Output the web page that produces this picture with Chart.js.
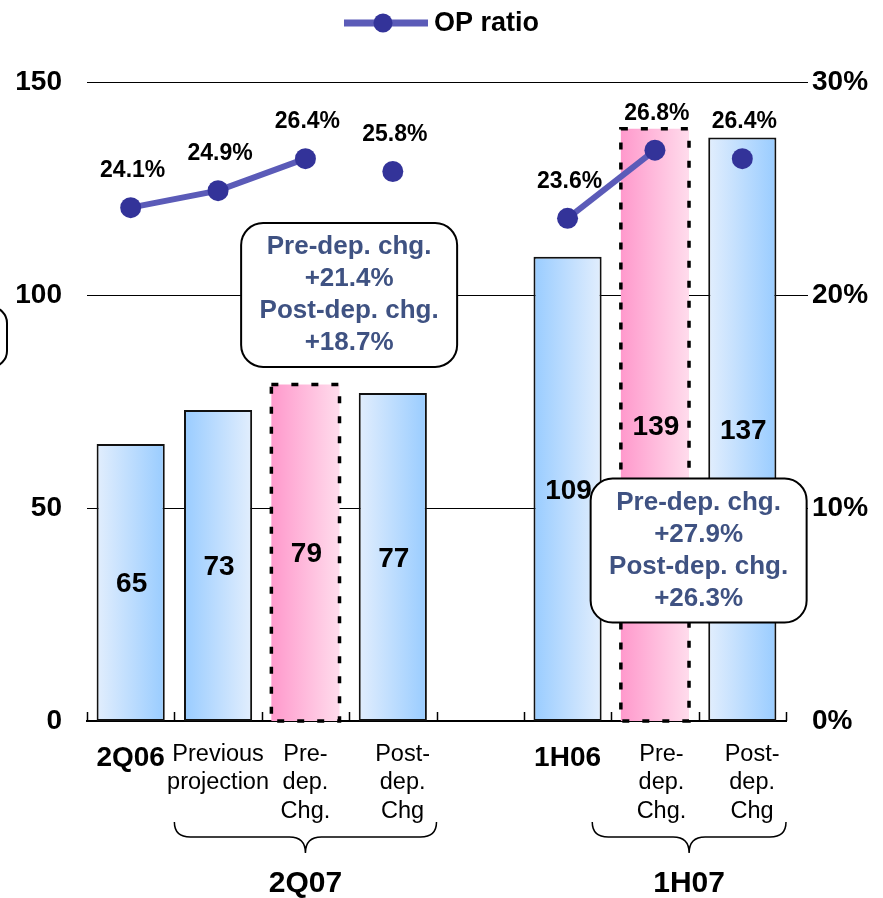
<!DOCTYPE html>
<html>
<head>
<meta charset="utf-8">
<title>OP ratio</title>
<script src="https://cdn.jsdelivr.net/npm/chart.js@4.4.1/dist/chart.umd.min.js"></script>
<style>
  html, body { margin: 0; padding: 0; background: #fff; }
  #wrap { width: 883px; height: 898px; position: relative; }
</style>
</head>
<body>
<div id="wrap"><canvas id="opChart"></canvas></div>
<script>
// Data
const categories = [
  '2Q06',
  ['Previous', 'projection'],
  ['Pre-', 'dep.', 'Chg.'],
  ['   Post-', '   dep.', '   Chg'],
  '',
  '1H06',
  ['  Pre-', '  dep.', '  Chg.'],
  ['   Post-', '   dep.', '   Chg']
];
const opProfit = [65, 73, 79, 77, null, 109, 139, 137];
const opRatio = [24.1, 24.9, 26.4, 25.8, null, 23.6, 26.8, 26.4];
const ratioBreaks = [3, 7]; // points not joined to the one before
const leftTicks = [0, 50, 100, 150];
const rightTicks = [0, 10, 20, 30];
const groupLabels = ['2Q07', '1H07'];
const noteLines = [
  ['Pre-dep. chg.', '+21.4%', 'Post-dep. chg.', '+18.7%'],
  ['Pre-dep. chg.', '+27.9%', 'Post-dep. chg.', '+26.3%']
];

// Styles
const FONT = '"Liberation Sans", Arial, sans-serif';
const BLUE = '#99ccff', BLUE_LIGHT = '#e2eefd';
const PINK = '#ff99cc', PINK_LIGHT = '#ffdcec';
const LINE_COLOR = '#5b5bb8', POINT_COLOR = '#333399', NOTE_COLOR = '#3f5282';
const barLook = ['lr', 'rl', 'pink', 'lr', null, 'rl', 'pink', 'lr'];
const BAR_PCT = 0.78;

function barFill(c) {
  const chart = c.chart;
  const x = chart.scales && chart.scales.x;
  if (!chart.chartArea || !x || c.dataIndex === undefined) return BLUE;
  const i = c.dataIndex;
  const cx = x.getPixelForValue(i);
  const half = x.width / categories.length * BAR_PCT / 2;
  const g = chart.ctx.createLinearGradient(cx - half, 0, cx + half, 0);
  const look = barLook[i];
  if (look === 'pink') { g.addColorStop(0, PINK); g.addColorStop(1, PINK_LIGHT); }
  else if (look === 'rl') { g.addColorStop(0, BLUE); g.addColorStop(1, BLUE_LIGHT); }
  else { g.addColorStop(0, BLUE_LIGHT); g.addColorStop(1, BLUE); }
  return g;
}

function roundBox(ctx, x, y, w, h, r) {
  ctx.beginPath();
  ctx.moveTo(x + r, y);
  ctx.arcTo(x + w, y, x + w, y + h, r);
  ctx.arcTo(x + w, y + h, x, y + h, r);
  ctx.arcTo(x, y + h, x, y, r);
  ctx.arcTo(x, y, x + w, y, r);
  ctx.closePath();
  ctx.fillStyle = '#fff';
  ctx.fill();
  ctx.lineWidth = 2;
  ctx.strokeStyle = '#000';
  ctx.stroke();
}

function drawBrace(ctx, x1, x2, yTop, yMid, yTip) {
  const cx = (x1 + x2) / 2, r = 16;
  ctx.beginPath();
  ctx.moveTo(x1, yTop);
  ctx.quadraticCurveTo(x1, yMid, x1 + r, yMid);
  ctx.lineTo(cx - r, yMid);
  ctx.quadraticCurveTo(cx, yMid, cx, yTip);
  ctx.quadraticCurveTo(cx, yMid, cx + r, yMid);
  ctx.lineTo(x2 - r, yMid);
  ctx.quadraticCurveTo(x2, yMid, x2, yTop);
  ctx.lineWidth = 1.5;
  ctx.strokeStyle = '#000';
  ctx.stroke();
}

const decorations = {
  id: 'decorations',
  beforeDatasetsDraw(chart) {
    const { ctx, chartArea, scales } = chart;
    ctx.save();
    // horizontal grid lines, running a little past the plot on the right
    ctx.strokeStyle = '#000';
    ctx.lineWidth = 1.2;
    leftTicks.filter(v => v > 0).forEach(v => {
      const y = Math.round(scales.y.getPixelForValue(v)) + 0.5;
      ctx.beginPath();
      ctx.moveTo(chartArea.left, y);
      ctx.lineTo(chartArea.right + 22, y);
      ctx.stroke();
    });
    // box cut off at the left edge of the slide
    roundBox(ctx, -160, 307, 167, 60, 16);
    ctx.restore();
  },
  afterDatasetsDraw(chart) {
    const { ctx, chartArea, scales } = chart;
    const x = scales.x;
    const slot = x.width / categories.length;
    const edge = i => x.left + i * slot;
    const bars = chart.getDatasetMeta(1).data;
    const points = chart.getDatasetMeta(0).data;
    ctx.save();

    // dashed outline on the highlighted bars
    ctx.setLineDash([7, 13]);
    ctx.lineWidth = 3.5;
    ctx.strokeStyle = '#000';
    bars.forEach((b, i) => {
      if (barLook[i] !== 'pink') return;
      const half = b.width / 2;
      ctx.strokeRect(b.x - half, b.y, b.width, b.base - b.y);
    });
    ctx.setLineDash([]);

    // small tick marks on the category axis
    ctx.lineWidth = 1.5;
    for (let i = 0; i <= categories.length; i++) {
      const tx = Math.round(edge(i)) + 0.5;
      ctx.beginPath();
      ctx.moveTo(tx, chartArea.bottom);
      ctx.lineTo(tx, chartArea.bottom - 9);
      ctx.stroke();
    }

    // values inside the bars
    ctx.fillStyle = '#000';
    ctx.textAlign = 'center';
    ctx.textBaseline = 'middle';
    ctx.font = 'bold 28px ' + FONT;
    bars.forEach((b, i) => {
      if (opProfit[i] == null) return;
      ctx.fillText(String(opProfit[i]), b.x + 1, (b.y + b.base) / 2 + 2);
    });

    // ratio labels above the points
    ctx.font = 'bold 23px ' + FONT;
    points.forEach((p, i) => {
      if (opRatio[i] == null) return;
      ctx.fillText(opRatio[i].toFixed(1) + '%', p.x + 2, p.y - 37);
    });

    // braces and group names
    const braces = [[edge(1), edge(4)], [edge(6) - 19, edge(8)]];
    braces.forEach(([a, b], k) => {
      drawBrace(ctx, a, b, 822, 837, 853);
      ctx.fillStyle = '#000';
      ctx.font = 'bold 30px ' + FONT;
      ctx.fillText(groupLabels[k], (a + b) / 2, 884);
    });

    // growth notes
    const noteAnchors = [[edge(3), scales.y.getPixelForValue(100)], [edge(7), scales.y.getPixelForValue(40)]];
    noteAnchors.forEach(([cx, cy], k) => {
      const w = 216, h = 144;
      roundBox(ctx, cx - w / 2, cy - h / 2, w, h, 22);
      ctx.fillStyle = NOTE_COLOR;
      ctx.font = 'bold 26px ' + FONT;
      noteLines[k].forEach((t, j) => ctx.fillText(t, cx, cy - 48 + j * 32));
    });

    // legend: line sample with a point, then the series name
    const name = chart.data.datasets[0].label;
    ctx.font = 'bold 27px ' + FONT;
    const tw = ctx.measureText(name).width;
    const start = (chart.width - (84 + 6 + tw)) / 2;
    const ly = 23;
    ctx.strokeStyle = LINE_COLOR;
    ctx.lineWidth = 7;
    ctx.beginPath();
    ctx.moveTo(start, ly);
    ctx.lineTo(start + 84, ly);
    ctx.stroke();
    ctx.fillStyle = POINT_COLOR;
    ctx.beginPath();
    ctx.arc(start + 39, ly, 9.5, 0, Math.PI * 2);
    ctx.fill();
    ctx.fillStyle = '#000';
    ctx.textAlign = 'left';
    ctx.fillText(name, start + 90, ly + 1);

    ctx.restore();
  }
};

const tickFontBold = { family: FONT, size: 28, weight: 'bold', lineHeight: '36px' };
const tickFontPlain = { family: FONT, size: 23.5, weight: 'normal', lineHeight: '28.5px' };

const chart = new Chart(document.getElementById('opChart'), {
  type: 'bar',
  data: {
    labels: categories,
    datasets: [
      {
        type: 'line',
        label: 'OP ratio',
        data: opRatio,
        yAxisID: 'y1',
        order: 0,
        borderColor: LINE_COLOR,
        borderWidth: 6,
        pointRadius: 10.5,
        pointHoverRadius: 10.5,
        pointBackgroundColor: POINT_COLOR,
        pointBorderColor: POINT_COLOR,
        pointBorderWidth: 0,
        spanGaps: false,
        segment: {
          borderColor: c => ratioBreaks.includes(c.p1DataIndex) ? 'rgba(0,0,0,0)' : undefined
        }
      },
      {
        type: 'bar',
        label: 'OP',
        data: opProfit,
        yAxisID: 'y',
        order: 1,
        barPercentage: BAR_PCT,
        categoryPercentage: 1,
        backgroundColor: barFill,
        borderColor: c => barLook[c.dataIndex] === 'pink' ? 'rgba(0,0,0,0)' : '#111',
        borderWidth: c => barLook[c.dataIndex] === 'pink' ? 0 : 2,
        borderSkipped: false
      }
    ]
  },
  options: {
    responsive: true,
    maintainAspectRatio: false,
    animation: false,
    layout: { padding: { top: 82, left: 0, right: 0, bottom: 0 } },
    plugins: {
      legend: { display: false },
      tooltip: { enabled: false }
    },
    scales: {
      x: {
        offset: true,
        grid: { display: false, drawTicks: false },
        border: { display: true, color: '#000', width: 2 },
        ticks: {
          color: '#000',
          autoSkip: false,
          maxRotation: 0,
          minRotation: 0,
          padding: 19,
          font: c => (c.index === 0 || c.index === 5) ? tickFontBold : tickFontPlain
        },
        afterFit: s => { s.height = 177; }
      },
      y: {
        position: 'left',
        min: 0,
        max: 150,
        grid: { display: false, drawTicks: false },
        border: { display: false },
        ticks: { color: '#000', padding: 25, font: { family: FONT, size: 28, weight: 'bold' } },
        afterBuildTicks: s => { s.ticks = leftTicks.map(v => ({ value: v })); },
        afterFit: s => { s.width = 87; }
      },
      y1: {
        position: 'right',
        min: 0,
        max: 30,
        grid: { display: false, drawTicks: false },
        border: { display: false },
        ticks: {
          color: '#000',
          padding: 26,
          font: { family: FONT, size: 28, weight: 'bold' },
          callback: v => v + '%'
        },
        afterBuildTicks: s => { s.ticks = rightTicks.map(v => ({ value: v })); },
        afterFit: s => { s.width = 97; }
      }
    }
  },
  plugins: [decorations]
});
</script>
</body>
</html>
